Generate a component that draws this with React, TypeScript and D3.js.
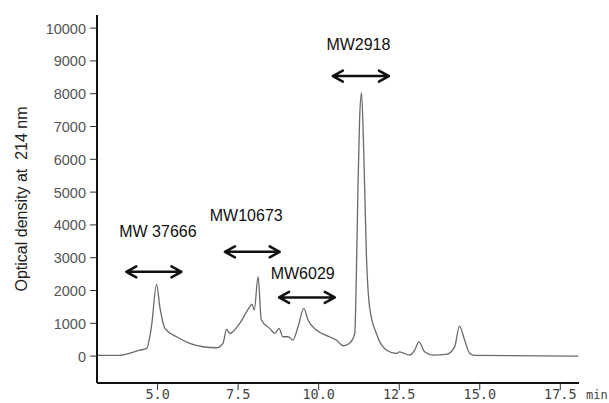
import React from "react"
import * as d3 from "d3"

// chromatogram trace (time in min, optical density)
const times = [3.12, 3.83, 4.45, 4.66, 4.81, 4.97, 5.07, 5.23, 5.59, 6.0, 6.41, 6.83, 7.03, 7.14, 7.24, 7.55, 7.86, 7.93, 8.0, 8.12, 8.22, 8.48, 8.64, 8.77, 8.89, 9.05, 9.2, 9.36, 9.54, 9.67, 9.93, 10.34, 10.55, 10.76, 10.96, 11.12, 11.17, 11.22, 11.27, 11.33, 11.4, 11.48, 11.58, 11.79, 12.1, 12.41, 12.51, 12.82, 12.98, 13.11, 13.29, 13.55, 13.96, 14.22, 14.37, 14.53, 14.69, 14.84, 18.06]
const density = [20, 25, 180, 235, 900, 2186, 1500, 845, 590, 387, 285, 255, 390, 815, 690, 1000, 1500, 1585, 1400, 2420, 1100, 845, 690, 845, 590, 590, 490, 895, 1455, 1100, 795, 590, 490, 315, 390, 690, 2500, 5160, 7195, 8030, 6180, 3130, 1500, 690, 185, 80, 130, 30, 180, 436, 130, 30, 50, 280, 915, 490, 80, 20, 0]

const xTicks = [5, 7.5, 10, 12.5, 15, 17.5]
const yTicks = [0, 1000, 2000, 3000, 4000, 5000, 6000, 7000, 8000, 9000, 10000]

// molecular weight fractions: label, arrow start/end (min), arrow level, label pos
const mwLabels = ["MW 37666", "MW10673", "MW6029", "MW2918"]
const arrowFrom = [4.03, 7.09, 8.77, 10.44]
const arrowTo = [5.74, 8.79, 10.5, 12.18]
const arrowLevel = [2570, 3180, 1790, 8537]
const labelX = [3.81, 6.62, 8.51, 10.24]
const labelY = [3637, 4125, 2338, 9329]

export default function App() {
  const width = 609
  const height = 403

  const x = d3.scaleLinear().domain([3.12, 18.08]).range([97, 579])
  const y = d3.scaleLinear().domain([-820, 10400]).range([383, 15])

  const pts: [number, number][] = times.map((t, i) => [t, density[i]])
  const line = d3
    .line<[number, number]>()
    .x(d => x(d[0]))
    .y(d => y(d[1]))
    .curve(d3.curveMonotoneX)

  const x0 = x.range()[0]
  const x1 = x.range()[1]
  const yBase = y.range()[0]
  const yTop = y.range()[1]

  return (
    <div style={{ position: "fixed", left: 0, top: 0 }}>
      <svg width={width} height={height} style={{ display: "block", background: "#fff" }}>
        <path d={line(pts) || ""} fill="none" stroke="#6a6a6a" strokeWidth={1.3} />

        {/* axes */}
        <line x1={x0} y1={yTop} x2={x0} y2={yBase} stroke="#111" strokeWidth={2} />
        <line x1={x0} y1={yBase} x2={x1} y2={yBase} stroke="#111" strokeWidth={2} />

        {yTicks.map(v => (
          <g key={v}>
            <line x1={x0 - 7} x2={x0} y1={y(v)} y2={y(v)} stroke="#333" strokeWidth={1} />
            <text
              x={86}
              y={y(v) + 5.5}
              textAnchor="end"
              fontFamily="Liberation Sans, Arial, sans-serif"
              fontSize={14.5}
              fill="#555"
            >
              {v}
            </text>
          </g>
        ))}

        {xTicks.map(v => (
          <g key={v}>
            <line x1={x(v)} x2={x(v)} y1={yBase} y2={yBase + 7} stroke="#333" strokeWidth={1} />
            <text
              x={x(v)}
              y={399}
              textAnchor="middle"
              fontFamily="DejaVu Sans Mono, monospace"
              fontSize={13.5}
              fill="#444"
            >
              {v.toFixed(1)}
            </text>
          </g>
        ))}
        <text x={586} y={399} fontFamily="DejaVu Sans Mono, monospace" fontSize={12} fill="#444">
          min
        </text>

        <text
          transform={`translate(27,199) rotate(-90)`}
          textAnchor="middle"
          fontFamily="Liberation Sans, Arial, sans-serif"
          fontSize={16}
          fill="#222"
          style={{ whiteSpace: "pre" }}
        >
          {"Optical density at  214 nm"}
        </text>

        {mwLabels.map((lab, i) => {
          const a = x(arrowFrom[i])
          const b = x(arrowTo[i])
          const ay = y(arrowLevel[i])
          return (
            <g key={lab}>
              <path
                d={`M${a},${ay}H${b}M${a + 10},${ay - 5.5}L${a},${ay}L${a + 10},${ay + 5.5}M${b - 10},${ay - 5.5}L${b},${ay}L${b - 10},${ay + 5.5}`}
                fill="none"
                stroke="#111"
                strokeWidth={2.5}
                strokeLinecap="round"
                strokeLinejoin="round"
              />
              <text
                x={x(labelX[i])}
                y={y(labelY[i])}
                fontFamily="Liberation Sans, Arial, sans-serif"
                fontSize={16}
                fill="#111"
                style={{ whiteSpace: "pre" }}
              >
                {lab}
              </text>
            </g>
          )
        })}
      </svg>
    </div>
  )
}
